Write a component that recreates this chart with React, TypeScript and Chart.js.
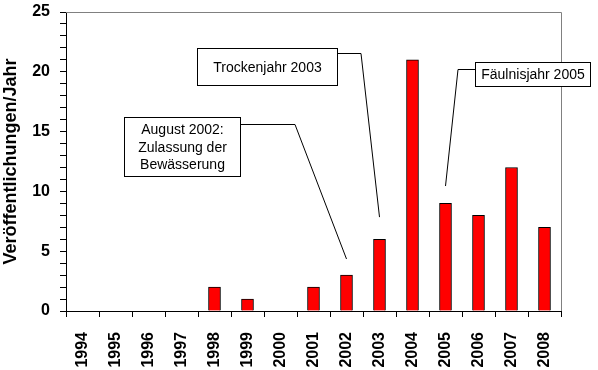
import React, { useEffect, useRef } from "react";
import { Chart, registerables } from "chart.js";

Chart.register(...registerables);

const years = ["1994", "1995", "1996", "1997", "1998", "1999", "2000", "2001", "2002", "2003", "2004", "2005", "2006", "2007", "2008"];
const publications = [0, 0, 0, 0, 2, 1, 0, 2, 3, 6, 21, 9, 8, 12, 7];
const yMax = 25;
const yTickLabels = ["0", "5", "10", "15", "20", "25"];

const annLines1 = ["August 2002:", "Zulassung der", "Bewässerung"];
const annLines2 = ["Trockenjahr 2003"];
const annLines3 = ["Fäulnisjahr 2005"];

// Callouts: box in pixels, elbow in pixels, pointer end in data coords (category, value)
const callouts = [
  { lines: annLines1, box: [124, 117, 241, 177], start: [241, 124], elbow: [295, 124], endCat: "2002", endVal: 4.35, lineH: 17.5 },
  { lines: annLines2, box: [197, 48, 338, 86], start: [338, 53], elbow: [361, 53], endCat: "2003", endVal: 7.85, lineH: 17 },
  { lines: annLines3, box: [475, 62, 591, 87], start: [475, 69], elbow: [458, 69], endCat: "2005", endVal: 10.45, lineH: 17 },
];

const calloutPlugin = {
  id: "callouts",
  afterDraw(chart: any) {
    const ctx = chart.ctx;
    const ca = chart.chartArea;
    ctx.save();
    // gray top/right frame
    ctx.strokeStyle = "#808080";
    ctx.lineWidth = 1;
    ctx.beginPath();
    ctx.moveTo(ca.left, ca.top + 0.5);
    ctx.lineTo(ca.right + 0.5, ca.top + 0.5);
    ctx.lineTo(ca.right + 0.5, ca.bottom);
    ctx.stroke();

    const xs = chart.scales.x;
    const ys = chart.scales.y;
    for (const c of callouts) {
      const ex = xs.getPixelForValue(years.indexOf(c.endCat));
      const ey = ys.getPixelForValue(c.endVal);
      ctx.strokeStyle = "#000";
      ctx.lineWidth = 1;
      ctx.beginPath();
      ctx.moveTo(c.start[0], c.start[1] + 0.5);
      ctx.lineTo(c.elbow[0], c.elbow[1] + 0.5);
      ctx.lineTo(ex, ey);
      ctx.stroke();
      const [x1, y1, x2, y2] = c.box;
      ctx.fillStyle = "#fff";
      ctx.fillRect(x1, y1, x2 - x1, y2 - y1);
      ctx.strokeRect(x1 + 0.5, y1 + 0.5, x2 - x1 - 1, y2 - y1 - 1);
      ctx.fillStyle = "#000";
      ctx.font = "14px Arial, 'Liberation Sans', sans-serif";
      ctx.textAlign = "center";
      ctx.textBaseline = "middle";
      const cx = (x1 + x2) / 2;
      const cy = (y1 + y2) / 2;
      const n = c.lines.length;
      c.lines.forEach((t, i) => {
        ctx.fillText(t, cx, cy + (i - (n - 1) / 2) * c.lineH + 1);
      });
    }
    ctx.restore();
  },
};

export default function App() {
  const ref = useRef<HTMLCanvasElement>(null);
  useEffect(() => {
    document.body.style.margin = "0";
    const chart = new Chart(ref.current!, {
      type: "bar",
      data: {
        labels: years,
        datasets: [
          {
            data: publications,
            backgroundColor: "#FF0000",
            borderColor: "#000000",
            borderWidth: 1,
            barThickness: 12,
          },
        ],
      },
      options: {
        responsive: false,
        animation: false,
        layout: { padding: { top: 12, right: 37, left: 0, bottom: 0 } },
        plugins: { legend: { display: false }, tooltip: { enabled: false } },
        scales: {
          x: {
            offset: true,
            grid: { offset: true, drawOnChartArea: false, tickLength: 6, tickColor: "#000" },
            border: { color: "#000", width: 1 },
            ticks: {
              color: "#000",
              font: { family: "Arial, 'Liberation Sans', sans-serif", size: 16, weight: "bold" },
              maxRotation: 90,
              minRotation: 90,
              autoSkip: false,
              padding: 15,
            },
            afterFit(scale: any) {
              scale.height = 59;
              scale.paddingLeft = 0;
              scale.paddingRight = 0;
            },
          },
          y: {
            min: 0,
            max: yMax,
            grid: { drawOnChartArea: false, tickLength: 6, tickColor: "#000" },
            border: { color: "#000", width: 1 },
            ticks: {
              stepSize: 1,
              autoSkip: false,
              color: "#000",
              padding: 10,
              font: { family: "Arial, 'Liberation Sans', sans-serif", size: 16, weight: "bold" },
              callback: (v: any) => (yTickLabels.includes(String(v)) ? String(v) : ""),
            },
            title: {
              display: true,
              text: "Veröffentlichungen/Jahr",
              color: "#000",
              font: { family: "Arial, 'Liberation Sans', sans-serif", size: 18, weight: "bold" },
              padding: { top: 0, bottom: 0 },
            },
            afterFit(scale: any) {
              scale.width = 66;
              scale.paddingTop = 0;
              scale.paddingBottom = 0;
            },
          },
        },
      },
      plugins: [calloutPlugin],
    } as any);
    return () => chart.destroy();
  }, []);
  return (
    <div style={{ position: "fixed", left: 0, top: 0, width: 598, height: 370, background: "#fff" }}>
      <canvas ref={ref} width={598} height={370} />
    </div>
  );
}
